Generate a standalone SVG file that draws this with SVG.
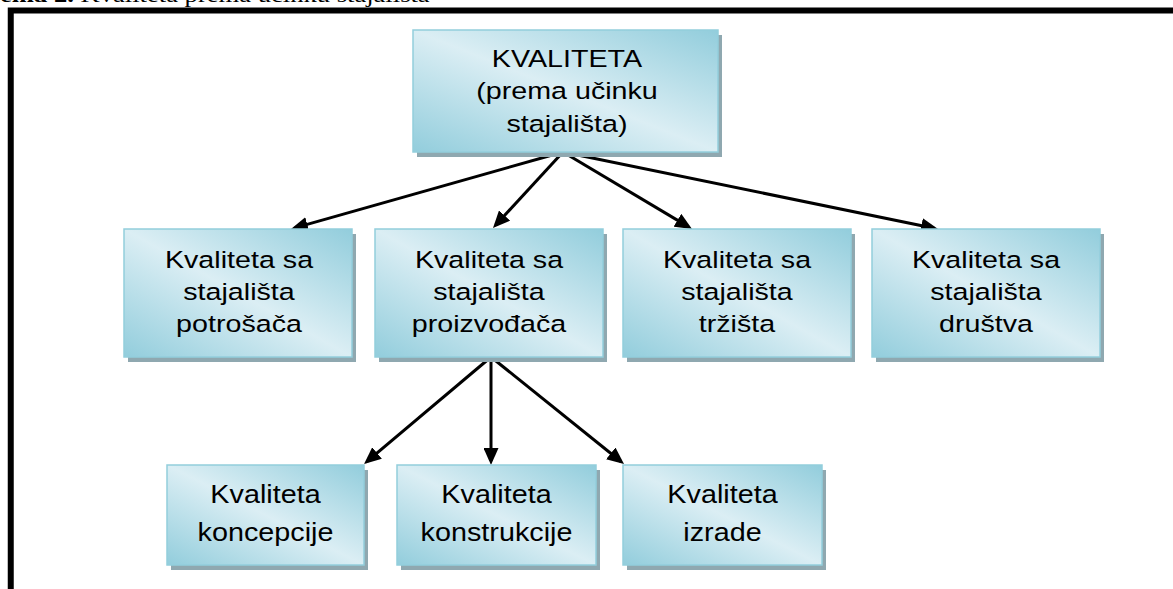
<svg xmlns="http://www.w3.org/2000/svg" width="1173" height="589" viewBox="0 0 1173 589">
<style>
.sh{fill:#8fa8b0}
.bx{fill:url(#g);stroke:#93cedc;stroke-width:1.5}
.t{font-family:"Liberation Sans",Arial,sans-serif;font-size:23.5px;fill:#000;text-anchor:middle}
.t2{font-family:"Liberation Sans",Arial,sans-serif;font-size:25px;fill:#000;text-anchor:middle}
.ttl{font-family:"Liberation Serif","Times New Roman",serif;font-size:20px;fill:#000}
.cn line{stroke:#000;stroke-width:3;marker-end:url(#ah)}
</style>
<defs>
<linearGradient id="g" x1="1" y1="0" x2="0" y2="1">
<stop offset="0" stop-color="#92cddc"/>
<stop offset="0.5" stop-color="#dbeef4"/>
<stop offset="1" stop-color="#92cddc"/>
</linearGradient>
<marker id="ah" markerUnits="userSpaceOnUse" viewBox="0 0 17 15" markerWidth="17" markerHeight="15" refX="13" refY="7.5" orient="auto">
<path d="M0,0 L17,7.5 L0,15 Z" fill="#000"/>
</marker>
</defs>
<rect width="1173" height="589" fill="#fff"/>
<g id="title" transform="translate(-29.5,1.5) scale(1.33,1)">
<text class="ttl" x="0" y="0"><tspan font-weight="bold">Shema 2.</tspan> Kvaliteta prema učinku stajališta</text>
</g>
<path id="frame" d="M10.75,589 V10.5 H1173" fill="none" stroke="#000" stroke-width="6"/>
<g id="connectors" class="cn">
<line x1="563" y1="152" x2="294.8" y2="227.9"/>
<line x1="563" y1="152" x2="495.7" y2="225.1"/>
<line x1="563" y1="152" x2="688.6" y2="226.9"/>
<line x1="563" y1="152" x2="934.1" y2="228.2"/>
<line x1="491" y1="357" x2="367.1" y2="461.4"/>
<line x1="491" y1="357" x2="491" y2="461"/>
<line x1="491" y1="357" x2="620.9" y2="461.5"/>
</g>
<g id="n-top">
<rect class="sh" x="417" y="35" width="305" height="122"/>
<rect class="bx" x="413" y="30" width="305" height="122"/>
<text class="t" transform="translate(567,0) scale(1.22,1)"><tspan x="0" y="67">KVALITETA</tspan><tspan x="0" y="99.5">(prema učinku</tspan><tspan x="0" y="132">stajališta)</tspan></text>
</g>
<g id="n-potrosaca">
<rect class="sh" x="128" y="234" width="228" height="128"/>
<rect class="bx" x="124" y="229" width="228" height="128"/>
<text class="t" transform="translate(239,0) scale(1.22,1)"><tspan x="0" y="268.5">Kvaliteta sa</tspan><tspan x="0" y="300.5">stajališta</tspan><tspan x="0" y="332">potrošača</tspan></text>
</g>
<g id="n-proizvodjaca">
<rect class="sh" x="379" y="234" width="228" height="128"/>
<rect class="bx" x="375" y="229" width="228" height="128"/>
<text class="t" transform="translate(489,0) scale(1.22,1)"><tspan x="0" y="268.5">Kvaliteta sa</tspan><tspan x="0" y="300.5">stajališta</tspan><tspan x="0" y="332">proizvođača</tspan></text>
</g>
<g id="n-trzista">
<rect class="sh" x="627" y="234" width="228" height="128"/>
<rect class="bx" x="623" y="229" width="228" height="128"/>
<text class="t" transform="translate(737,0) scale(1.22,1)"><tspan x="0" y="268.5">Kvaliteta sa</tspan><tspan x="0" y="300.5">stajališta</tspan><tspan x="0" y="332">tržišta</tspan></text>
</g>
<g id="n-drustva">
<rect class="sh" x="876" y="234" width="228" height="128"/>
<rect class="bx" x="872" y="229" width="228" height="128"/>
<text class="t" transform="translate(986,0) scale(1.22,1)"><tspan x="0" y="268.5">Kvaliteta sa</tspan><tspan x="0" y="300.5">stajališta</tspan><tspan x="0" y="332">društva</tspan></text>
</g>
<g id="n-koncepcije">
<rect class="sh" x="171" y="470" width="197" height="100"/>
<rect class="bx" x="167" y="465" width="197" height="100"/>
<text class="t2" transform="translate(265.5,0) scale(1.15,1)"><tspan x="0" y="503">Kvaliteta</tspan><tspan x="0" y="541">koncepcije</tspan></text>
</g>
<g id="n-konstrukcije">
<rect class="sh" x="401" y="470" width="199" height="100"/>
<rect class="bx" x="397" y="465" width="199" height="100"/>
<text class="t2" transform="translate(496.5,0) scale(1.15,1)"><tspan x="0" y="503">Kvaliteta</tspan><tspan x="0" y="541">konstrukcije</tspan></text>
</g>
<g id="n-izrade">
<rect class="sh" x="627" y="470" width="199" height="100"/>
<rect class="bx" x="623" y="465" width="199" height="100"/>
<text class="t2" transform="translate(722.5,0) scale(1.15,1)"><tspan x="0" y="503">Kvaliteta</tspan><tspan x="0" y="541">izrade</tspan></text>
</g>
</svg>
